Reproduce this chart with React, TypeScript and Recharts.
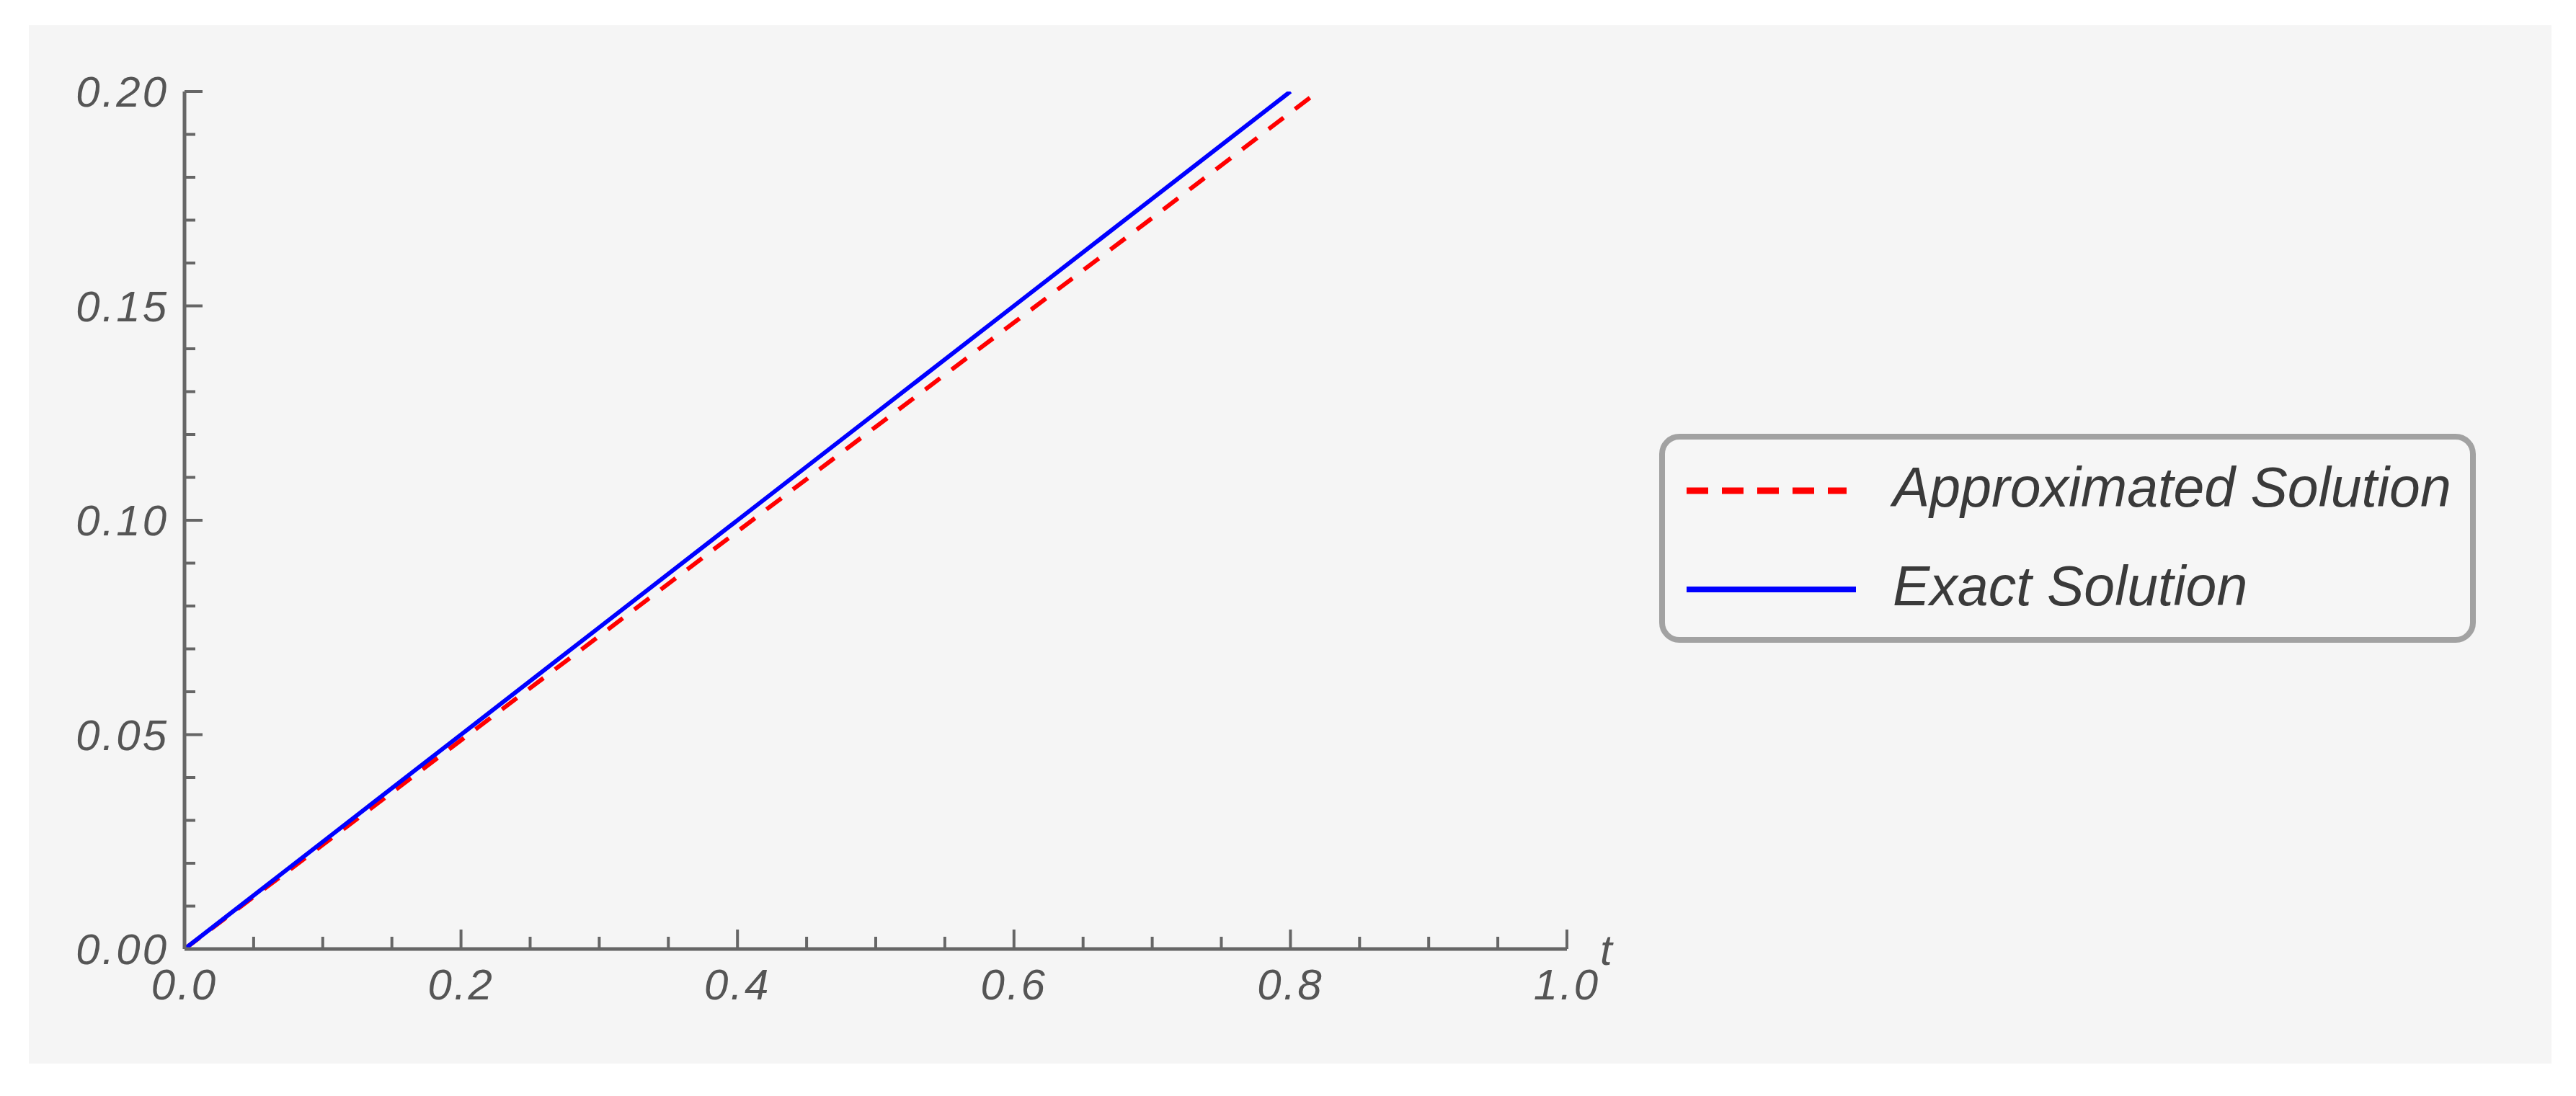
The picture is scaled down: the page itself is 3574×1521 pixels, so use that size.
import { LineChart, Line, XAxis, YAxis, Legend } from "recharts";

// approximated solution (red dashed)
const approxT = [0, 0.1, 0.2, 0.3, 0.4, 0.5, 0.6, 0.7, 0.8, 0.82];
const approxY = [0, 0.0243, 0.0487, 0.073, 0.0974, 0.1218, 0.1461, 0.1705, 0.1951, 0.2];

// exact solution (blue)
const exactT = [0, 0.1, 0.2, 0.3, 0.4, 0.5, 0.6, 0.7, 0.8];
const exactY = [0, 0.025, 0.05, 0.075, 0.1, 0.125, 0.15, 0.175, 0.2];

const xMajorTicks = [0, 0.2, 0.4, 0.6, 0.8, 1.0];
const xMajorLabels = ["0.0", "0.2", "0.4", "0.6", "0.8", "1.0"];
const xMinorTicks = [0.05, 0.1, 0.15, 0.25, 0.3, 0.35, 0.45, 0.5, 0.55, 0.65, 0.7, 0.75, 0.85, 0.9, 0.95];

const yMajorTicks = [0, 0.05, 0.1, 0.15, 0.2];
const yMajorLabels = ["0.00", "0.05", "0.10", "0.15", "0.20"];
const yMinorTicks = [
  0.01, 0.02, 0.03, 0.04, 0.06, 0.07, 0.08, 0.09, 0.11, 0.12, 0.13, 0.14, 0.16, 0.17, 0.18, 0.19
];

const approxData = approxT.map((t, i) => ({ t, y: approxY[i] }));
const exactData = exactT.map((t, i) => ({ t, y: exactY[i] }));

const FONT = "'Liberation Sans', Arial, sans-serif";
const AXIS = "#666666";
const LABEL = "#555555";
const BORDER = 8;

function XTick(props: any) {
  const { x, y, payload } = props;
  const idx = xMajorTicks.indexOf(payload.value);
  const major = idx >= 0;
  return (
    <g>
      <line x1={x} y1={y} x2={x} y2={y - (major ? 27 : 17)} stroke={AXIS} strokeWidth={4} />
      {major && (
        <text
          x={x}
          y={y + 70}
          textAnchor="middle"
          fill={LABEL}
          fontFamily={FONT}
          fontStyle="italic"
          fontSize={60}
          letterSpacing={3}
        >
          {xMajorLabels[idx]}
        </text>
      )}
    </g>
  );
}

function YTick(props: any) {
  const { x, y, payload } = props;
  const idx = yMajorTicks.indexOf(payload.value);
  const major = idx >= 0;
  return (
    <g>
      <line x1={x} y1={y} x2={x + (major ? 25 : 15)} y2={y} stroke={AXIS} strokeWidth={4} />
      {major && (
        <text
          x={x - 22}
          y={y + 21}
          textAnchor="end"
          fill={LABEL}
          fontFamily={FONT}
          fontStyle="italic"
          fontSize={60}
          letterSpacing={3}
        >
          {yMajorLabels[idx]}
        </text>
      )}
    </g>
  );
}

function LegendBox(props: any) {
  const items = props.payload || [];
  return (
    <div
      style={{
        position: "relative",
        boxSizing: "border-box",
        width: 1133,
        height: 290,
        border: `${BORDER}px solid #a2a2a2`,
        borderRadius: 28,
        background: "#f6f6f6"
      }}
    >
      <svg
        width={1133}
        height={290}
        style={{ position: "absolute", left: -BORDER, top: -BORDER, overflow: "visible" }}
      >
        {items.map((entry: any, i: number) => {
          const ly = 79 + i * 137;
          const dashed = entry.payload && entry.payload.strokeDasharray;
          return (
            <g key={entry.value}>
              <line
                x1={38}
                y1={ly}
                x2={dashed ? 260 : 273}
                y2={ly}
                stroke={entry.color}
                strokeWidth={dashed ? 9 : 8}
                strokeDasharray={dashed ? "30 19" : undefined}
              />
              <text
                x={324}
                y={ly + 22}
                fill="#3a3a3a"
                fontFamily={FONT}
                fontStyle="italic"
                fontSize={77}
              >
                {entry.value}
              </text>
            </g>
          );
        })}
      </svg>
    </div>
  );
}

export default function App() {
  return (
    <div style={{ position: "absolute", left: 0, top: 0, width: 3574, height: 1521, background: "#ffffff" }}>
      <div
        style={{ position: "absolute", left: 40, top: 35, width: 3500, height: 1441, background: "#f5f5f5" }}
      />
      <div style={{ position: "absolute", left: 0, top: 0 }}>
        <LineChart
          width={3574}
          height={1521}
          margin={{ top: 127, left: 255, right: 1400, bottom: 203 }}
        >
          <XAxis
            type="number"
            dataKey="t"
            domain={[0, 1]}
            ticks={[...xMajorTicks, ...xMinorTicks]}
            interval={0}
            height={1}
            tickSize={0}
            tickMargin={0}
            tickLine={false}
            tick={<XTick />}
            axisLine={{ stroke: AXIS, strokeWidth: 5 }}
            allowDataOverflow
            label={{
              value: "t",
              position: "right",
              offset: 46,
              fill: LABEL,
              fontSize: 60,
              fontStyle: "italic",
              fontFamily: FONT
            }}
          />
          <YAxis
            type="number"
            dataKey="y"
            domain={[0, 0.2]}
            ticks={[...yMajorTicks, ...yMinorTicks]}
            interval={0}
            width={1}
            tickSize={0}
            tickMargin={0}
            tickLine={false}
            tick={<YTick />}
            axisLine={{ stroke: AXIS, strokeWidth: 5 }}
            allowDataOverflow
          />
          <Line
            data={approxData}
            dataKey="y"
            name="Approximated Solution"
            type="linear"
            stroke="#ff0000"
            strokeWidth={6}
            strokeDasharray="26 20"
            dot={false}
            isAnimationActive={false}
          />
          <Line
            data={exactData}
            dataKey="y"
            name="Exact Solution"
            type="linear"
            stroke="#0000ff"
            strokeWidth={6}
            dot={false}
            isAnimationActive={false}
          />
          <Legend
            layout="horizontal"
            align="center"
            verticalAlign="middle"
            content={<LegendBox />}
            wrapperStyle={{ position: "absolute", left: 2302, top: 602, width: 1133, height: 290 }}
          />
        </LineChart>
      </div>
    </div>
  );
}
